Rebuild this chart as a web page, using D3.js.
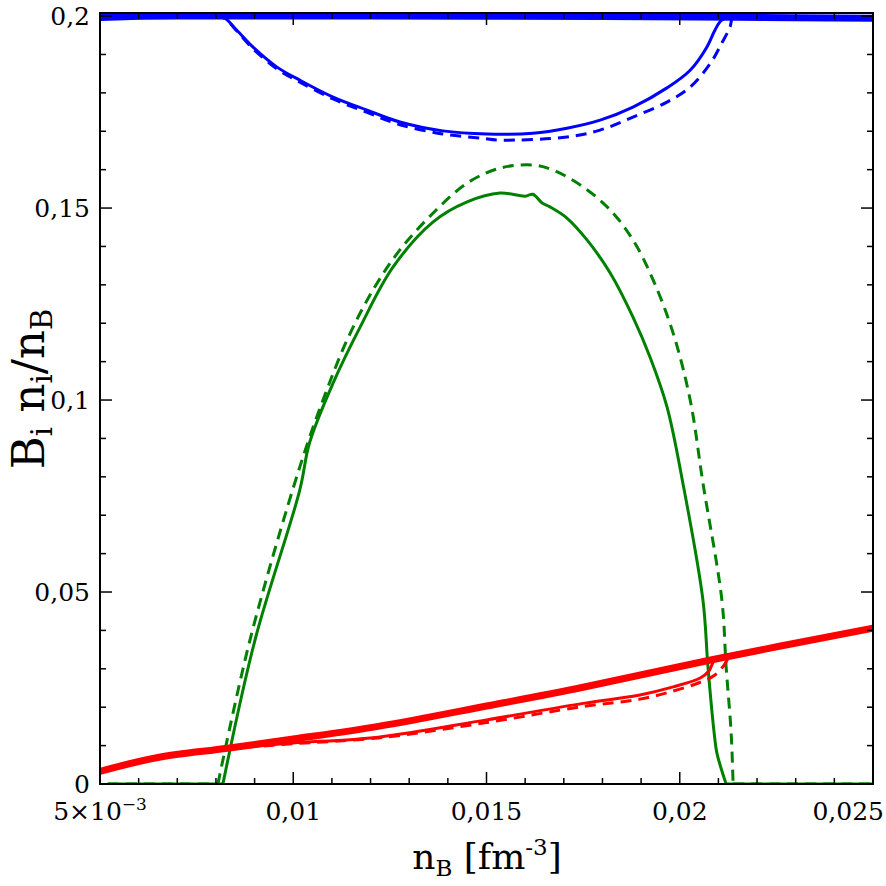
<!DOCTYPE html>
<html>
<head>
<meta charset="utf-8">
<script src="https://cdn.jsdelivr.net/npm/d3@7"></script>
<style>
  body { margin: 0; background: #fff; }
  text { font-family: "DejaVu Serif", serif; fill: #000; }
</style>
</head>
<body>
<svg id="chart" width="886" height="886"></svg>
<script>
// ticks
var xTicks = [0.005, 0.01, 0.015, 0.02, 0.025];
var xTickLabels = ["5×10", "0,01", "0,015", "0,02", "0,025"];
var yTicks = [0, 0.05, 0.1, 0.15, 0.2];
var yTickLabels = ["0", "0,05", "0,1", "0,15", "0,2"];

// series, [nB, Bi*ni/nB]
var blueThick = [[0.005,0.1996],[0.0058,0.1999],[0.0075,0.2],[0.012,0.2],[0.018,0.1999],[0.0215,0.1997],[0.025,0.1994]];
var blueSolid = [[0.0075,0.2],[0.00818,0.1997],[0.00854,0.1963],[0.00896,0.1919],[0.00958,0.1867],[0.01017,0.1833],
  [0.01103,0.1789],[0.01191,0.1755],[0.01276,0.1724],[0.01387,0.1701],[0.01501,0.1693],[0.0162,0.1695],
  [0.01708,0.1708],[0.01794,0.1729],[0.01879,0.1763],[0.01967,0.1813],[0.02027,0.1859],[0.0207,0.1919],
  [0.02091,0.1963],[0.02109,0.199],[0.0215,0.1998]];
var blueDashed = [[0.0075,0.2],[0.00818,0.1996],[0.00854,0.1961],[0.00896,0.1915],[0.00958,0.1862],[0.01017,0.1828],
  [0.01103,0.1784],[0.01191,0.1749],[0.01276,0.1717],[0.01387,0.1693],[0.01487,0.1682],[0.01535,0.1677],
  [0.01708,0.1685],[0.01794,0.1703],[0.01879,0.1737],[0.01967,0.1776],[0.02027,0.1815],[0.0208,0.1878],
  [0.02109,0.193],[0.0213,0.1971],[0.02138,0.1997],[0.0218,0.1998]];
var greenSolid = [[0.0052,0],[0.00818,0],[0.00901,0.0375],[0.01017,0.0766],[0.01042,0.0888],[0.01103,0.1044],
  [0.01173,0.119],[0.01258,0.1346],[0.01362,0.1464],[0.0145,0.1516],[0.01535,0.1539],[0.016,0.1531],
  [0.0162,0.1536],[0.01644,0.1513],[0.01664,0.1503],[0.01708,0.1474],[0.0176,0.1417],[0.0182,0.1331],
  [0.01879,0.1216],[0.01923,0.1112],[0.01967,0.0982],[0.02008,0.0784],[0.0206,0.0479],[0.02073,0.0305],
  [0.02089,0.0133],[0.02096,0.0081],[0.0212,0],[0.025,0]];
var greenDashed = [[0.0052,0],[0.00805,0],[0.00888,0.0375],[0.01017,0.0826],[0.01077,0.1],[0.01139,0.1156],
  [0.01206,0.1286],[0.01276,0.1391],[0.01362,0.1487],[0.0145,0.1565],[0.01535,0.1604],[0.0162,0.1612],
  [0.01672,0.1599],[0.0175,0.1555],[0.0182,0.1495],[0.01879,0.1417],[0.01931,0.1313],[0.01983,0.1174],
  [0.02027,0.1],[0.0206,0.0784],[0.02109,0.0479],[0.0212,0.0305],[0.02133,0.0133],[0.02138,0],[0.025,0]];
var redThick = [[0.005,0.0033],[0.0065,0.0069],[0.0083,0.0093],[0.01,0.0117],[0.0122,0.015],[0.015,0.0203],
  [0.0175,0.0252],[0.0208,0.0323],[0.025,0.0406]];
var redSolid = [[0.0083,0.0093],[0.0092,0.0100],[0.01,0.0107],[0.0122,0.0122],[0.015,0.0167],[0.0175,0.021],
  [0.01897,0.0232],[0.01983,0.0253],[0.02053,0.0276],[0.02076,0.0295],[0.02091,0.0323],[0.0215,0.0334]];
var redDashed = [[0.0083,0.0093],[0.0092,0.0099],[0.01,0.0105],[0.0122,0.012],[0.015,0.016],[0.0175,0.0202],
  [0.01897,0.0221],[0.01983,0.0242],[0.02053,0.0265],[0.02091,0.0284],[0.02115,0.031],[0.0213,0.0331],[0.0218,0.0337]];

var svg = d3.select("#chart");
var mLeft = 100, mRight = 873, mTop = 13, mBottom = 784;

var x = d3.scaleLinear().domain([0.005, 0.025]).range([mLeft, mRight]);
var y = d3.scaleLinear().domain([0, 0.2008]).range([mBottom, mTop]);

svg.append("defs").append("clipPath").attr("id", "plotclip")
  .append("rect").attr("x", mLeft).attr("y", mTop).attr("width", mRight - mLeft).attr("height", mBottom - mTop);

var line = d3.line()
  .curve(d3.curveCatmullRom.alpha(0.5))
  .x(function(d){ return x(d[0]); })
  .y(function(d){ return y(d[1]); });

// split a series where it lies flat on zero, so the smooth curve keeps sharp corners there
function pieces(data){
  var out = [], cur = [data[0]];
  for (var i = 1; i < data.length; i++) {
    cur.push(data[i]);
    var flatPrev = data[i-1][1] == 0 && data[i][1] == 0;
    var next = data[i+1];
    var flatNext = next && data[i][1] == 0 && next[1] == 0;
    if (next && flatPrev != flatNext) { out.push(cur); cur = [data[i]]; }
  }
  out.push(cur);
  return out;
}

var plot = svg.append("g").attr("clip-path", "url(#plotclip)");
var series = [
  {data: greenSolid, color: "#008000", width: 3, dash: null},
  {data: greenDashed, color: "#008000", width: 3, dash: "11,7"},
  {data: blueSolid, color: "#0000ff", width: 3, dash: null},
  {data: blueDashed, color: "#0000ff", width: 3, dash: "11,7"},
  {data: blueThick, color: "#0000ff", width: 7, dash: null},
  {data: redSolid, color: "#ff0000", width: 3, dash: null},
  {data: redDashed, color: "#ff0000", width: 3, dash: "11,7"},
  {data: redThick, color: "#ff0000", width: 7, dash: null}
];
series.forEach(function(s){
  pieces(s.data).forEach(function(p){
    plot.append("path")
      .attr("d", line(p))
      .attr("fill", "none")
      .attr("stroke", s.color)
      .attr("stroke-width", s.width)
      .attr("stroke-linejoin", "round")
      .attr("stroke-dasharray", s.dash);
  });
});

// ticks on all four sides, pointing inward
var xMinor = d3.range(0.005, 0.02501, 0.001);
var yMinor = d3.range(0, 0.2001, 0.01);
function isMajor(v, step){ return Math.abs(v / step - Math.round(v / step)) < 1e-6; }

var tk = svg.append("g").attr("stroke", "#000").attr("stroke-width", 1.5);
xMinor.forEach(function(v){
  var len = isMajor(v, 0.005) ? 12 : 6;
  tk.append("line").attr("x1", x(v)).attr("x2", x(v)).attr("y1", mBottom).attr("y2", mBottom - len);
  tk.append("line").attr("x1", x(v)).attr("x2", x(v)).attr("y1", mTop).attr("y2", mTop + len);
});
yMinor.forEach(function(v){
  var len = isMajor(v, 0.05) ? 12 : 6;
  tk.append("line").attr("y1", y(v)).attr("y2", y(v)).attr("x1", mLeft).attr("x2", mLeft + len);
  tk.append("line").attr("y1", y(v)).attr("y2", y(v)).attr("x1", mRight).attr("x2", mRight - len);
});

svg.append("rect").attr("x", mLeft).attr("y", mTop).attr("width", mRight - mLeft).attr("height", mBottom - mTop)
  .attr("fill", "none").attr("stroke", "#000").attr("stroke-width", 2);

// tick labels
xTicks.forEach(function(v, i){
  var last = i == xTicks.length - 1;
  var t = svg.append("text")
    .attr("x", last ? 884 : x(v))
    .attr("y", 820)
    .attr("font-size", 25)
    .attr("text-anchor", last ? "end" : "middle")
    .text(xTickLabels[i]);
  if (i == 0) {
    t.append("tspan").attr("dy", -10).attr("font-size", 17).text("−3");
  }
});
yTicks.forEach(function(v, i){
  svg.append("text")
    .attr("x", 90)
    .attr("y", y(v) + 9)
    .attr("font-size", 25)
    .attr("text-anchor", "end")
    .text(yTickLabels[i]);
});

// axis titles
var xt = svg.append("text").attr("x", 487).attr("y", 869).attr("font-size", 36).attr("text-anchor", "middle");
xt.append("tspan").text("n");
xt.append("tspan").attr("dy", 7).attr("font-size", 23).text("B");
xt.append("tspan").attr("dy", -7).text(" [fm");
xt.append("tspan").attr("dy", -14).attr("font-size", 23).text("-3");
xt.append("tspan").attr("dy", 14).text("]");

var yt = svg.append("text").attr("transform", "translate(44,389) rotate(-90)")
  .attr("font-size", 45).attr("text-anchor", "middle");
yt.append("tspan").text("B");
yt.append("tspan").attr("dy", 8).attr("font-size", 29).text("i");
yt.append("tspan").attr("dy", -8).text(" n");
yt.append("tspan").attr("dy", 8).attr("font-size", 29).text("i");
yt.append("tspan").attr("dy", -8).text("/n");
yt.append("tspan").attr("dy", 8).attr("font-size", 29).text("B");
</script>
</body>
</html>
